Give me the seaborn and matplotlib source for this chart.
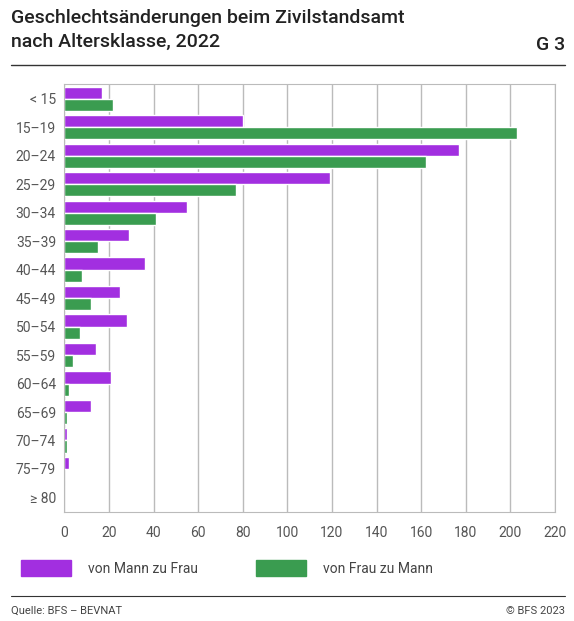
import matplotlib
matplotlib.use("Agg")
import matplotlib.pyplot as plt
from matplotlib.patches import Patch
import pandas as pd
import seaborn as sns

# values
age_groups = ["< 15", "15–19", "20–24", "25–29", "30–34", "35–39", "40–44", "45–49",
              "50–54", "55–59", "60–64", "65–69", "70–74", "75–79", "≥ 80"]
mann_zu_frau = [17, 80, 177, 119, 55, 29, 36, 25, 28, 14, 21, 12, 1, 2, 0]
frau_zu_mann = [22, 203, 162, 77, 41, 15, 8, 12, 7, 4, 2, 1, 1, 0, 0]
series = ["von Mann zu Frau", "von Frau zu Mann"]
colors = ["#a22fe0", "#3a9c50"]

df = pd.DataFrame({
    "Alter": age_groups * 2,
    "Anzahl": mann_zu_frau + frau_zu_mann,
    "Richtung": [series[0]] * len(age_groups) + [series[1]] * len(age_groups),
})

sns.set_style("white")
plt.rcParams["font.family"] = ["Roboto", "DejaVu Sans"]

fig = plt.figure(figsize=(5.74, 6.21), dpi=100)
ax = fig.add_axes([0.112, 0.176, 0.855, 0.688])

sns.barplot(data=df, y="Alter", x="Anzahl", hue="Richtung", order=age_groups,
            hue_order=series, palette=colors, orient="h", width=0.85,
            saturation=1, legend=False, ax=ax)

ax.set_xlim(0, 220)
ax.set_xticks(range(0, 221, 20))
ax.set_xlabel("")
ax.set_ylabel("")
ax.grid(axis="x", color="#bbbbbb", linewidth=1)
ax.set_axisbelow(True)
for s in ["top", "right", "left", "bottom"]:
    ax.spines[s].set_color("#bbbbbb")
ax.tick_params(axis="both", labelsize=10, colors="#555555", length=0, pad=6)
ax.tick_params(axis="x", length=4, color="#bbbbbb")

# title block
fig.text(0.02, 0.985, "Geschlechtsänderungen beim Zivilstandsamt\nnach Altersklasse, 2022",
         fontsize=14, fontweight="medium", va="top", linespacing=1.4, color="#222222")
fig.text(0.985, 0.928, "G 3", fontsize=14, fontweight="medium", ha="right", va="center",
         color="#222222")
fig.add_artist(plt.Line2D([0.02, 0.985], [0.896, 0.896], color="#333333", linewidth=1))

# legend
handles = [Patch(color=c, label=s) for c, s in zip(colors, series)]
fig.legend(handles=handles, loc="center left", bbox_to_anchor=(0.015, 0.085), ncol=2,
           frameon=False, fontsize=10, handlelength=3.6, handleheight=1.4,
           columnspacing=4.2, handletextpad=1.2, labelcolor="#444444")

# footer
fig.add_artist(plt.Line2D([0.02, 0.985], [0.04, 0.04], color="#333333", linewidth=0.8))
fig.text(0.02, 0.012, "Quelle: BFS – BEVNAT", fontsize=8, color="#444444")
fig.text(0.985, 0.012, "© BFS 2023", fontsize=8, color="#444444", ha="right")

fig.savefig("out.png", dpi=100)
